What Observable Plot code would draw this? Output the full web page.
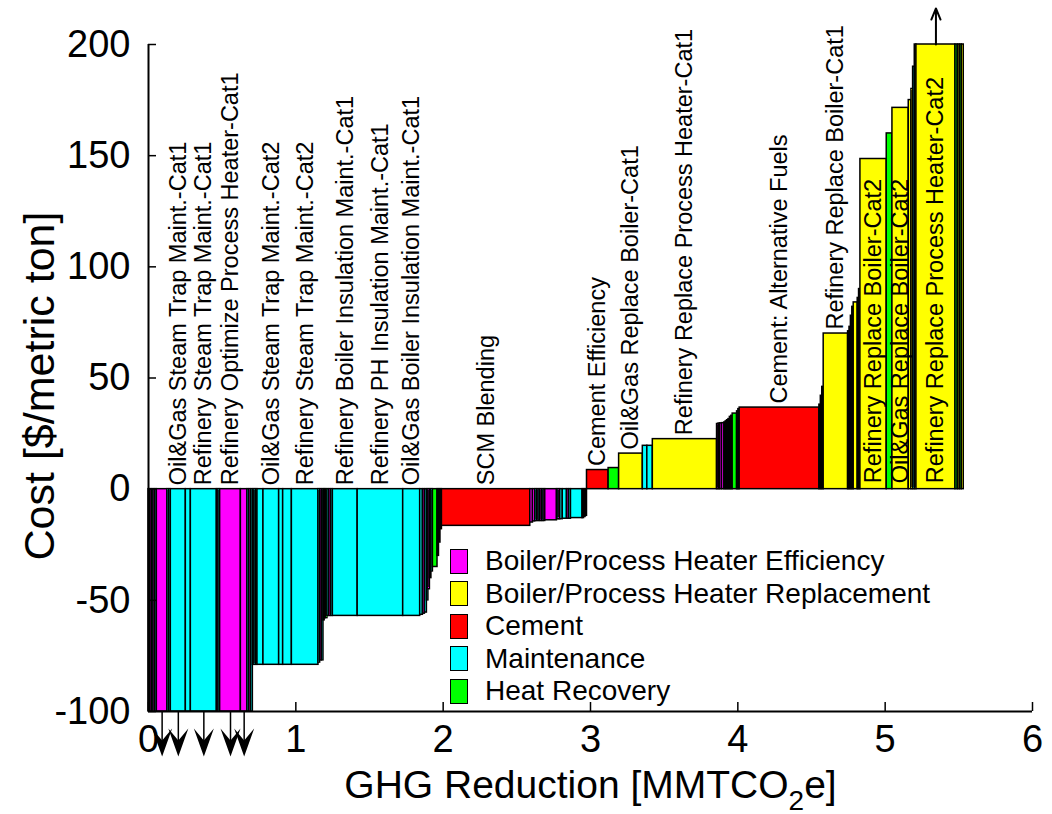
<!DOCTYPE html>
<html><head><meta charset="utf-8">
<script src="https://cdn.jsdelivr.net/npm/d3@7"></script>
<script src="https://cdn.jsdelivr.net/npm/@observablehq/plot@0.6"></script>
<style>
body{margin:0;background:#fff;font-family:'Liberation Sans',Arial,sans-serif}
#wrap{position:relative;width:1052px;height:814px}
#legend{position:absolute;left:450px;top:545px;font-size:28px;line-height:1;color:#000}
.row{display:flex;align-items:center;height:32.5px;white-space:nowrap}
.sw{width:18px;height:25px;box-sizing:border-box;border:1.5px solid #000;margin-right:17px;flex:none}
</style></head><body>
<div id="wrap"><div id="chart"></div><div id="legend"></div></div>
<script>
// Category codes, names and colours
const categoryCodes = ["E", "R", "C", "M", "H"];
const categoryNames = ["Boiler/Process Heater Efficiency", "Boiler/Process Heater Replacement", "Cement", "Maintenance", "Heat Recovery"];
const categoryColors = ["#ff00ff", "#ffff00", "#ff0000", "#00ffff", "#00ff00"];

// Measures, left to right: category, GHG reduction (MMTCO2e), cost ($/metric ton)
const measureCats = [
  "M","E","M","E","M","E","M","M",
  "M","M","M","E","M","E","E","M","E","M",
  "M","M","H","M","M","M","M","M",
  "M","E","M","M","E","H","M","E","M",
  "M","M","M","M","E","M",
  "M","E","M","M","H","M","E","M",
  "C","E","E","M","E","M","E","M","E",
  "E","M","E","M","M","E","M","M","M","E","M",
  "C","H","R","M","M","R",
  "E","M","E","E","M","E","M","H","M","E","H","M","E",
  "C","M","R","M","R","R","M","R","H","R","M","R",
  "R","H","R","R","R","M","R","R","H","R","H","R"
];
const reductions = [
  .0113,.0113,.0113,.0113,.0113,.0720,.0115,.0115,
  .1019,.0340,.1765,.0112,.0112,.1406,.0448,.0122,.0122,.0122,
  .0104,.0104,.0104,.0407,.1066,.0272,.0591,.1806,
  .0113,.0113,.0113,.0081,.0081,.0109,.0122,.0122,.0122,
  .1684,.3090,.1154,.0183,.0136,.0136,
  .0102,.0102,.0102,.0102,.0312,.0100,.0100,.0100,
  .5996,.0183,.0156,.0113,.0113,.0113,.0113,.0113,.0113,
  .0794,.0112,.0112,.0170,.0285,.0136,.0136,.0788,.0100,.0100,.0100,
  .1467,.0713,.1609,.0306,.0373,.4359,
  .0102,.0102,.0136,.0156,.0092,.0092,.0095,.0095,.0095,.0095,.0299,.0088,.0088,
  .5412,.0097,.0097,.0097,.1657,.0095,.0095,.0095,.0095,.0272,.0092,.0092,
  .1786,.0387,.1107,.0183,.0113,.0113,.0113,.2648,.0156,.0136,.0136,.0136
];
const costs = [
  -100,-100,-100,-100,-100,-130,-100,-100,
  -140,-100,-150,-100,-100,-160,-120,-100,-100,-100,
  -79,-79,-79,-79,-79,-79,-79,-79,
  -78,-77,-77,-59,-58,-58,-57,-57,-57,
  -57,-57,-57,-56.5,-56,-55.5,
  -50,-45,-40,-37,-35,-30,-24,-18,
  -16.5,-15,-14.5,-14.3,-14.3,-14.3,-14.3,-14.3,-14.3,
  -14,-13.5,-13.5,-13.5,-13.3,-13.3,-13.3,-13,-13,-12.5,-12,
  8.6,9.5,16,19.5,19.5,22.5,
  29.3,29.5,29.6,29.7,30,30.5,31,31.5,32.5,33,34,35,36,
  36.7,38,42,46,70,71,73,78,82,84,86,90,
  148.5,160,171.5,175,180,190,200,250,200,200,200,200
];
// Labelled measures: index into the arrays above, and the label text
const labelIndex = [8, 10, 13, 22, 25, 35, 36, 37, 49, 69, 71, 74, 88, 92, 100, 102, 107];
const labelText = [
  "Oil&Gas Steam Trap Maint.-Cat1",
  "Refinery Steam Trap Maint.-Cat1",
  "Refinery Optimize Process Heater-Cat1",
  "Oil&Gas Steam Trap Maint.-Cat2",
  "Refinery Steam Trap Maint.-Cat2",
  "Refinery Boiler Insulation Maint.-Cat1",
  "Refinery PH Insulation Maint.-Cat1",
  "Oil&Gas Boiler Insulation Maint.-Cat1",
  "SCM Blending",
  "Cement Efficiency",
  "Oil&Gas Replace Boiler-Cat1",
  "Refinery Replace Process Heater-Cat1",
  "Cement: Alternative Fuels",
  "Refinery Replace Boiler-Cat1",
  "Refinery Replace Boiler-Cat2",
  "Oil&Gas Replace Boiler-Cat2",
  "Refinery Replace Process Heater-Cat2"
];
// Axes
const xDomain = [0, 6];
const yDomain = [-100, 200];
const xTicks = [0, 1, 2, 3, 4, 5, 6];
const yTicks = [-100, -50, 0, 50, 100, 150, 200];
const yLabel = "Cost [$/metric ton]";
const xLabelParts = ["GHG Reduction [MMTCO", "2", "e]"];

// Build table
const colorOf = Object.fromEntries(categoryCodes.map((c, i) => [c, categoryColors[i]]));
let acc = 0;
const bars = reductions.map((w, i) => {
  const x0 = acc; acc += w;
  const cost = costs[i];
  return {x0, x1: acc, mid: (x0 + acc) / 2, cost, shown: Math.max(yDomain[0], Math.min(yDomain[1], cost)), fill: colorOf[measureCats[i]]};
});
const labels = labelIndex.map((k, j) => {
  const b = bars[k];
  const inside = b.cost >= 100;
  return {x: b.mid, y: b.cost > 0 && !inside ? b.cost : 0, text: labelText[j], inside};
});
const downs = bars.filter(b => b.cost < yDomain[0]);
const ups = bars.filter(b => b.cost > yDomain[1]);
const headDown = {draw(ctx) { ctx.moveTo(0, 0); ctx.lineTo(-10, -28); ctx.lineTo(0, -16); ctx.lineTo(10, -28); ctx.closePath(); }};
const fmt = d => String(d);

const chart = Plot.plot({
  width: 1052, height: 814,
  marginLeft: 148, marginRight: 20, marginTop: 44, marginBottom: 103,
  x: {domain: xDomain},
  y: {domain: yDomain},
  color: {type: "identity"},
  style: {fontFamily: "'Liberation Sans', Arial, sans-serif", fontSize: "23px", background: "white", color: "black", overflow: "visible"},
  marks: [
    Plot.rect(bars, {x1: "x0", x2: "x1", y1: () => 0, y2: "shown", fill: "fill", stroke: "black", strokeWidth: 1.5}),
    Plot.text(labels.filter(d => !d.inside), {x: "x", y: "y", text: "text", rotate: -90, textAnchor: "start", lineAnchor: "middle", dy: -4, fontSize: 23.5, fill: "black"}),
    Plot.text(labels.filter(d => d.inside), {x: "x", y: "y", text: "text", rotate: -90, textAnchor: "start", lineAnchor: "middle", dy: -6, fontSize: 23.5, fill: "black"}),
    Plot.ruleX(downs, {x: "mid", y1: yDomain[0], y2: yDomain[0] - 18, stroke: "black", strokeWidth: 1.5}),
    Plot.dot(downs, {x: "mid", y: yDomain[0] - 20.2, symbol: headDown, fill: "black", stroke: "none"}),
    Plot.arrow(ups, {x1: "mid", x2: "mid", y1: yDomain[1], y2: yDomain[1] + 16.2, stroke: "black", strokeWidth: 2, headLength: 24, headAngle: 45}),
    Plot.ruleX([xDomain[0]], {y1: yDomain[0], y2: yDomain[1], stroke: "black", strokeWidth: 2}),
    Plot.ruleY([yDomain[0]], {x1: xDomain[0], x2: xDomain[1], stroke: "black", strokeWidth: 2}),
    Plot.tickY(yTicks, {y: d => d, insetRight: 876, stroke: "black", strokeWidth: 1.5}),
    Plot.tickX(xTicks, {x: d => d, insetTop: 658, stroke: "black", strokeWidth: 1.5}),
    Plot.axisX({ticks: xTicks, tickFormat: fmt, tickSize: 0, tickPadding: 14, fontSize: 38, label: null}),
    Plot.axisY({ticks: yTicks, tickFormat: fmt, tickSize: 0, tickPadding: 18, fontSize: 38, label: null}),
    Plot.text([yLabel], {frameAnchor: "left", rotate: -90, dx: -108, dy: 8, fontSize: 43, textAnchor: "middle", lineAnchor: "middle", fill: "black"}),
    Plot.text([xLabelParts.join("")], {frameAnchor: "bottom", dy: 74, fontSize: 39, textAnchor: "middle", lineAnchor: "middle", fill: "black"})
  ]
});
document.getElementById("chart").appendChild(chart);

// subscript in x label
const xt = Array.from(chart.querySelectorAll("text")).find(t => t.textContent === xLabelParts.join(""));
if (xt) {
  xt.textContent = "";
  const ns = "http://www.w3.org/2000/svg";
  const add = (s, attrs) => { const e = document.createElementNS(ns, "tspan"); e.textContent = s; for (const k in attrs) e.setAttribute(k, attrs[k]); xt.appendChild(e); };
  add(xLabelParts[0], {});
  add(xLabelParts[1], {dy: "12", "font-size": "28"});
  add(xLabelParts[2], {dy: "-12"});
}

// legend
const lg = d3.select("#legend");
categoryNames.forEach((n, i) => {
  const r = lg.append("div").attr("class", "row");
  r.append("div").attr("class", "sw").style("background", categoryColors[i]);
  r.append("span").text(n);
});
</script>
</body></html>
